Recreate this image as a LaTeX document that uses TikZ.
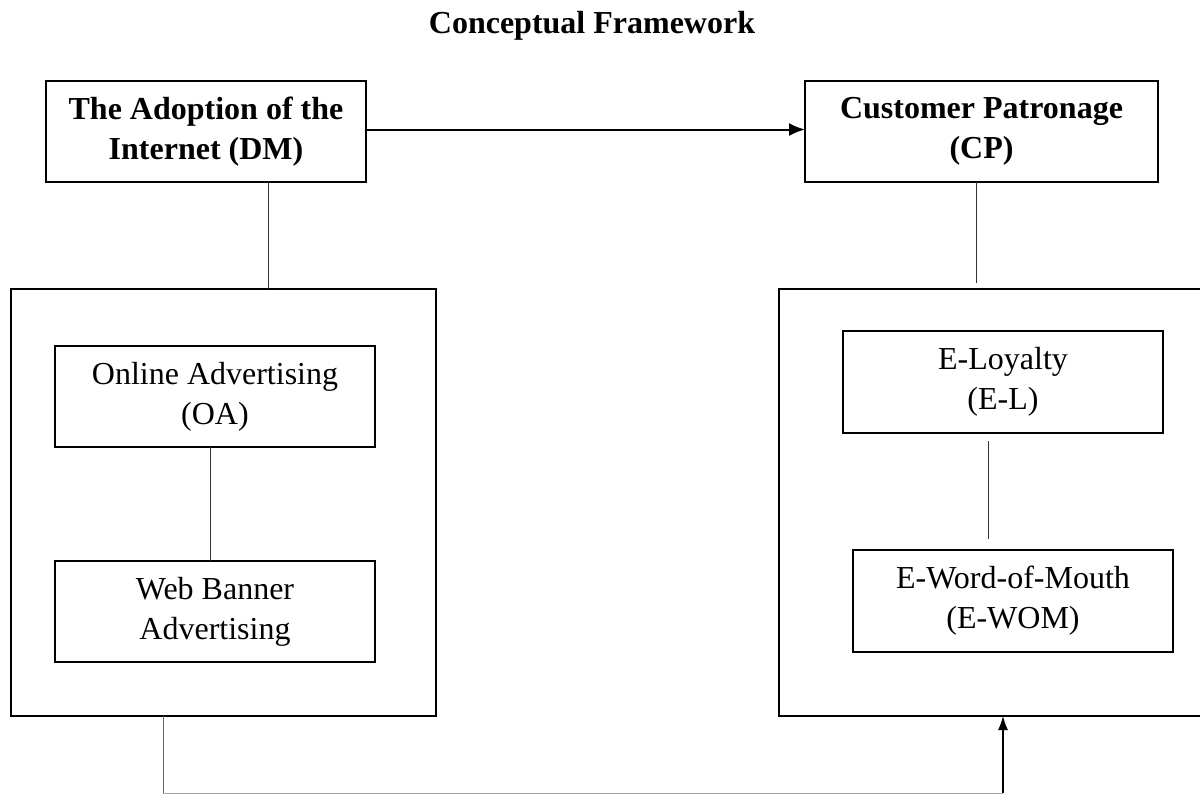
\documentclass[tikz,border=0pt]{standalone}
\usepackage{fontspec}
\setmainfont{Liberation Serif}
\usetikzlibrary{positioning,arrows.meta}
\tikzset{
  block/.style={
    draw,
    rectangle,
    line width=1pt,
    outer sep=0pt,
    minimum height=50.5pt,
    minimum width=160pt,
    align=center,
    font=\fontsize{16}{20}\selectfont\bfseries
  },
  subblock/.style={
    draw,
    rectangle,
    line width=1pt,
    outer sep=0pt,
    minimum height=50.5pt,
    minimum width=160pt,
    align=center,
    font=\fontsize{16}{20}\selectfont
  },
  group/.style={
    draw,
    rectangle,
    line width=1pt,
    outer sep=0pt,
    minimum height=213.5pt
  },
  heading/.style={anchor=base, font=\fontsize{16}{20}\selectfont\bfseries},
  link/.style={black!80, line width=0.5pt},
  line/.style={-{Latex[length=8pt,width=6.5pt]}}
}
\begin{document}
\begin{tikzpicture}
				\useasboundingbox (0,0) rectangle (600pt,-397pt);
				\clip (0,0) rectangle (600pt,-397pt);

				\node[heading] (t) at (296pt,-16.5pt) {Conceptual Framework};

				\node[block] (dm) at (103pt,-65.75pt) {The Adoption of the\\Internet (DM)};
				\node[block, minimum width=176.5pt, right = 219.5pt of dm] (cp) {Customer Patronage\\(CP)};
				\draw[line, line width=1pt] ([yshift=1pt]dm.east) -- ([yshift=1pt]cp.west) ;

				\node[group, minimum width=212.5pt, below = 53.5pt of dm, xshift=8.75pt] (lg) {};
				\node[group, minimum width=224pt, below = 53.5pt of cp, xshift=10.75pt] (rg) {};
				\draw[link] ([xshift=31pt]dm.south) -- ([xshift=31pt]dm.south |- lg.north) ;
				\draw[link, shorten >=3pt] ([xshift=-2.75pt]cp.south) -- ([xshift=-2.75pt]cp.south |- rg.north) ;

				\node[subblock, below = 28.5pt of lg.north, xshift=-4.25pt] (oa) {Online Advertising\\(OA)};
				\node[subblock, below = 57pt of oa] (wb) {Web Banner\\Advertising};
				\draw[link] ([xshift=-2.5pt]oa.south) -- ([xshift=-2.5pt]oa.south |- wb.north) ;

				\node[subblock, minimum height=51pt, below = 21pt of rg.north] (el) {E-Loyalty\\(E-L)};
				\node[subblock, minimum height=51pt, below = 58.5pt of el, xshift=5pt] (ewom) {E-Word-of-Mouth\\(E-WOM)};
				\draw[link, shorten <=4pt, shorten >=5.5pt] ([xshift=-7.5pt]el.south) -- ([xshift=-7.5pt]el.south |- ewom.north) ;

				\coordinate[below = 38.5pt of lg.south, xshift=-30.25pt] (lb);
				\coordinate (rb) at (lb -| rg.south);
				\draw[link, black!60] ([xshift=-30.25pt]lg.south) -- (lb) ;
				\draw[link, black!35] (lb) -- (rb) ;
				\draw[-{Latex[length=7pt,width=5pt]}, line width=0.6pt] (rb) -- (rg.south) ;
\end{tikzpicture}
\end{document}
